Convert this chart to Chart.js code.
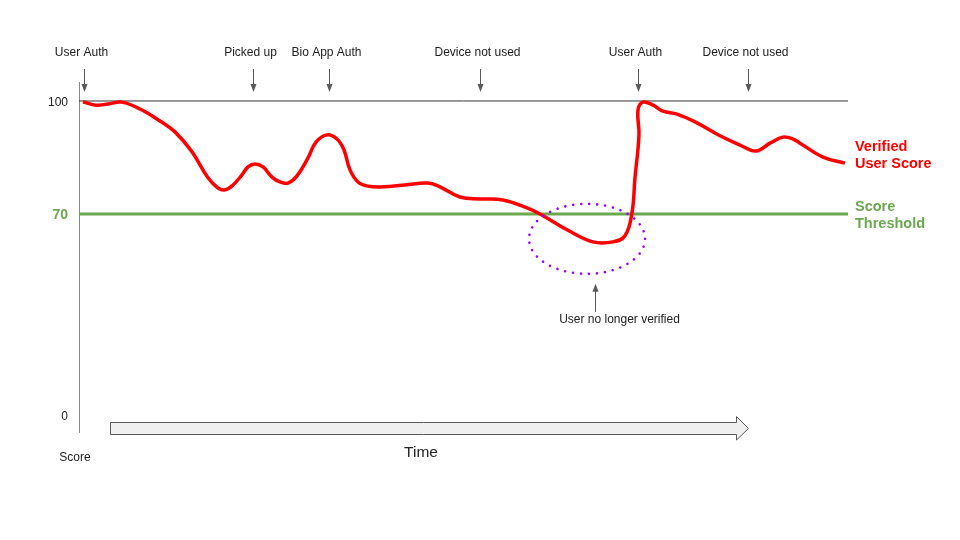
<!DOCTYPE html>
<html>
<head>
<meta charset="utf-8">
<script src="https://cdn.jsdelivr.net/npm/chart.js@4.4.1/dist/chart.umd.min.js"></script>
<style>
  html,body{margin:0;padding:0;background:#fff;}
  #wrap{width:960px;height:540px;}
</style>
</head>
<body>
<div id="wrap"><canvas id="c" width="960" height="540"></canvas></div>
<script>
// ---- data ----
const scoreTimes  = [0.52, 2.08, 3.77, 5.59, 8.19, 10.53, 12.48, 14.69, 16.78, 18.08, 18.99, 20.03, 21.20, 21.98, 22.89, 23.93, 25.10, 26.14, 27.18, 28.35, 29.78, 30.82, 32.25, 33.55, 34.46, 35.24, 36.28, 37.58, 39.53, 42.39, 45.38, 46.94, 49.54, 52.15, 55.14, 58.26, 59.95, 63.46, 66.84, 69.44, 71.00, 71.91, 72.30, 72.82, 72.69, 73.34, 74.64, 75.94, 77.76, 80.36, 83.23, 85.96, 88.04, 89.86, 91.55, 92.85, 93.76, 96.75, 99.61];
const scoreValues = [99.8, 98.9, 99.2, 99.7, 97.6, 94.7, 91.8, 86.5, 79.6, 76.9, 76.4, 77.7, 80.4, 82.5, 83.3, 82.5, 79.8, 78.5, 78.2, 80.1, 84.9, 89.1, 91.0, 89.9, 87.0, 81.7, 78.5, 77.4, 77.2, 77.7, 78.2, 77.2, 74.5, 74.0, 73.7, 71.6, 70.0, 65.8, 62.6, 62.6, 64.2, 70.3, 79.6, 91.0, 97.6, 99.7, 98.9, 97.3, 96.5, 94.2, 90.9, 88.3, 86.7, 88.8, 90.4, 89.9, 88.8, 85.1, 83.5];
const thresholdValue = 70;
const maxScore = 100;
const yTickValues = [16.6, 70, 100];
const yTickLabels = ["0", "70", "100"];
const eventLabels = ["User Auth", "Picked up", "Bio App Auth", "Device not used", "User Auth", "Device not used"];
const eventTimes  = [0.65, 22.63, 32.51, 52.15, 72.69, 87.0];
const lostTime = 66.06, lostScore = 63.4;
const lostLabel = "User no longer verified";
const seriesLabels = [["Verified", "User Score"], ["Score", "Threshold"]];
const axisTitleX = "Time", axisTitleY = "Score";

const FONT = '"Liberation Sans", Arial, sans-serif';
const RED = '#ff0000', GREEN = '#6aa84f', PURPLE = '#9900ff', DARK = '#222222', GREY = '#595959';

const overlay = {
  id: 'overlay',
  afterDatasetsDraw(chart) {
    const ctx = chart.ctx, xs = chart.scales.x, ys = chart.scales.y, ca = chart.chartArea;
    ctx.save();
    // event annotations
    ctx.font = '12px ' + FONT;
    ctx.textAlign = 'center';
    ctx.textBaseline = 'middle';
    eventLabels.forEach((t, i) => {
      const x = Math.round(xs.getPixelForValue(eventTimes[i])) + 0.5;
      ctx.fillStyle = DARK;
      ctx.fillText(t, x - 3, 52.5);
      ctx.strokeStyle = GREY; ctx.lineWidth = 1;
      ctx.beginPath(); ctx.moveTo(x, 69); ctx.lineTo(x, 89); ctx.stroke();
      ctx.fillStyle = GREY;
      ctx.beginPath(); ctx.moveTo(x - 3, 84); ctx.lineTo(x + 3, 84); ctx.lineTo(x, 92); ctx.closePath(); ctx.fill();
    });
    // purple dotted ellipse
    const cx = xs.getPixelForValue(lostTime), cy = ys.getPixelForValue(lostScore);
    ctx.strokeStyle = PURPLE; ctx.lineWidth = 2.6; ctx.lineCap = 'round';
    ctx.setLineDash([0.01, 8]);
    ctx.beginPath(); ctx.ellipse(cx, cy, 58, 35, 0, 0, Math.PI * 2); ctx.stroke();
    ctx.setLineDash([]); ctx.lineCap = 'butt';
    // pointer arrow to ellipse
    const ax = Math.round(cx + 8) + 0.5;
    ctx.strokeStyle = GREY; ctx.lineWidth = 1;
    ctx.beginPath(); ctx.moveTo(ax, cy + 73); ctx.lineTo(ax, cy + 51); ctx.stroke();
    ctx.fillStyle = GREY;
    ctx.beginPath(); ctx.moveTo(ax - 3, cy + 53); ctx.lineTo(ax + 3, cy + 53); ctx.lineTo(ax, cy + 45); ctx.closePath(); ctx.fill();
    ctx.fillStyle = DARK; ctx.font = '12px ' + FONT;
    ctx.fillText(lostLabel, ax + 24, cy + 80.5);
    // series labels on right
    ctx.textAlign = 'left';
    ctx.font = 'bold 14.5px ' + FONT;
    ctx.fillStyle = RED;
    const lastY = ys.getPixelForValue(scoreValues[scoreValues.length - 1]);
    ctx.fillText(seriesLabels[0][0], ca.right + 7, lastY - 16.5);
    ctx.fillText(seriesLabels[0][1], ca.right + 7, lastY + 0.5);
    ctx.fillStyle = GREEN;
    const thY = ys.getPixelForValue(thresholdValue);
    ctx.fillText(seriesLabels[1][0], ca.right + 7, thY - 6.5);
    ctx.fillText(seriesLabels[1][1], ca.right + 7, thY + 10.5);
    // Time arrow
    const x0 = 110.5, x1 = 736.5, xt = 748.5, yTop = 422.5, yBot = 434.5, hTop = 416.5, hBot = 440, ym = (yTop + yBot) / 2;
    ctx.fillStyle = '#efefef'; ctx.strokeStyle = GREY; ctx.lineWidth = 1;
    ctx.beginPath();
    ctx.moveTo(x0, yTop); ctx.lineTo(x1, yTop); ctx.lineTo(x1, hTop); ctx.lineTo(xt, ym);
    ctx.lineTo(x1, hBot); ctx.lineTo(x1, yBot); ctx.lineTo(x0, yBot); ctx.closePath();
    ctx.fill(); ctx.stroke();
    // axis titles
    ctx.fillStyle = DARK; ctx.textAlign = 'center';
    ctx.font = '15.5px ' + FONT;
    ctx.fillText(axisTitleX, 421, 452.5);
    ctx.font = '12px ' + FONT;
    ctx.fillText(axisTitleY, 75, 457.5);
    ctx.restore();
  }
};

new Chart(document.getElementById('c'), {
  type: 'line',
  data: {
    datasets: [
      {
        label: 'Verified User Score',
        data: scoreTimes.map((t, i) => ({ x: t, y: scoreValues[i] })),
        borderColor: RED, borderWidth: 3.5, pointRadius: 0, tension: 0.4, fill: false
      },
      {
        label: 'Score Threshold',
        data: [{ x: 0, y: thresholdValue }, { x: 100, y: thresholdValue }],
        borderColor: GREEN, borderWidth: 3, pointRadius: 0, fill: false
      },
      {
        label: 'Max',
        data: [{ x: 0, y: maxScore }, { x: 100, y: maxScore }],
        borderColor: '#333333', borderWidth: 1, pointRadius: 0, fill: false
      }
    ]
  },
  options: {
    responsive: false,
    animation: false,
    clip: false,
    layout: { padding: { left: 0, top: 82, right: 112, bottom: 108 } },
    plugins: { legend: { display: false }, tooltip: { enabled: false } },
    scales: {
      x: { type: 'linear', min: 0, max: 100, display: false },
      y: {
        type: 'linear', min: 12.12, max: 105.04,
        grid: { display: false, drawTicks: false },
        border: { display: true, color: '#888888', width: 1 },
        afterBuildTicks: (s) => { s.ticks = yTickValues.map(v => ({ value: v })); },
        afterFit: (s) => { s.width = 79; },
        ticks: {
          padding: 11,
          labelOffset: 1.5,
          callback: (v, i) => yTickLabels[i],
          color: (c) => c.index === 1 ? GREEN : DARK,
          font: (c) => c.index === 1 ? { family: FONT, size: 14, weight: 'bold' } : { family: FONT, size: 12 }
        }
      }
    }
  },
  plugins: [overlay]
});
</script>
</body>
</html>
